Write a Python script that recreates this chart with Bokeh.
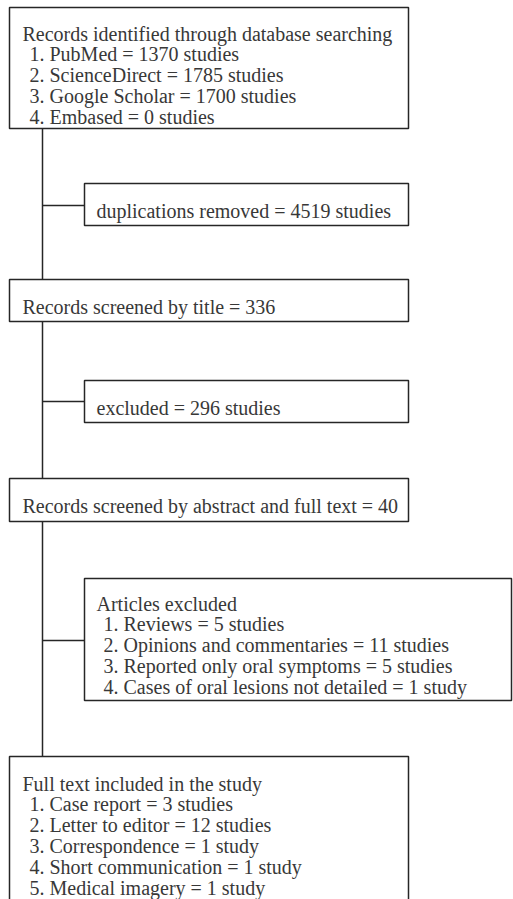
from bokeh.plotting import figure
from bokeh.models import Range1d, ColumnDataSource
from bokeh.core.properties import value
from bokeh.embed import file_html
from bokeh.resources import INLINE

# ---- data (texts of the flow diagram) ----
identified_title = "Records identified through database searching"
identified_items = ["1. PubMed = 1370 studies", "2. ScienceDirect = 1785 studies",
                    "3. Google Scholar = 1700 studies", "4. Embased = 0 studies"]
duplicates_text = "duplications removed = 4519 studies"
screened_title_text = "Records screened by title = 336"
excluded_text = "excluded = 296 studies"
screened_abstract_text = "Records screened by abstract and full text = 40"
articles_excl_title = "Articles excluded"
articles_excl_items = ["1. Reviews = 5 studies", "2. Opinions and commentaries = 11 studies",
                       "3. Reported only oral symptoms = 5 studies",
                       "4. Cases of oral lesions not detailed = 1 study"]
included_title = "Full text included in the study"
included_items = ["1. Case report = 3 studies", "2. Letter to editor = 12 studies",
                  "3. Correspondence = 1 study", "4. Short communication = 1 study",
                  "5. Medical imagery = 1 study"]

# ---- layout (pixel coordinates of the reference image) ----
W, H = 513, 899
p = figure(width=W, height=H, output_backend="svg", toolbar_location=None,
           x_range=Range1d(0, W), y_range=Range1d(H, 0),
           min_border=0, min_border_left=0, min_border_right=0,
           min_border_top=0, min_border_bottom=0)
p.axis.visible = False
p.grid.visible = False
p.outline_line_color = None
p.background_fill_color = "white"
p.border_fill_color = "white"

LINE = "#262626"
TXT = "#383838"
FONT = value("Liberation Serif")
FS = "20px"
LH = 20.8

# boxes: left, right, top, bottom
boxes = [
    (9, 408, 7, 128),
    (84, 408, 183, 225),
    (9, 408, 279, 321),
    (84, 408, 380, 422),
    (9, 408, 478, 521),
    (84, 511, 578, 700),
    (9, 408, 756, 910),
]
spine_x = 42
branches_y = [205, 401, 640]

# spine and branches
p.segment(x0=[spine_x], y0=[128], x1=[spine_x], y1=[756], line_color=LINE, line_width=1.5)
p.segment(x0=[spine_x] * 3, y0=branches_y, x1=[84] * 3, y1=branches_y,
          line_color=LINE, line_width=1.5)

bs = ColumnDataSource(dict(left=[b[0] for b in boxes], right=[b[1] for b in boxes],
                           top=[b[2] for b in boxes], bottom=[b[3] for b in boxes]))
p.quad(left="left", right="right", top="top", bottom="bottom", source=bs,
       fill_color="white", line_color=LINE, line_width=1.5)

tx, ty, tt = [], [], []

def block(x, y0, title, items, indent=7):
    tx.append(x); ty.append(y0); tt.append(title)
    for i, it in enumerate(items):
        tx.append(x + indent); ty.append(y0 + LH * (i + 1)); tt.append(it)

block(22, 33, identified_title, identified_items)
block(96, 210, duplicates_text, [])
block(22, 306, screened_title_text, [])
block(96, 407, excluded_text, [])
block(22, 505, screened_abstract_text, [])
block(96, 603, articles_excl_title, articles_excl_items)
block(22, 783, included_title, included_items)

p.text(x=tx, y=ty, text=tt, text_font=FONT, text_font_size=FS, text_color=TXT,
       text_baseline="alphabetic", text_align="left")

open("out.html", "w").write(file_html(p, INLINE))
